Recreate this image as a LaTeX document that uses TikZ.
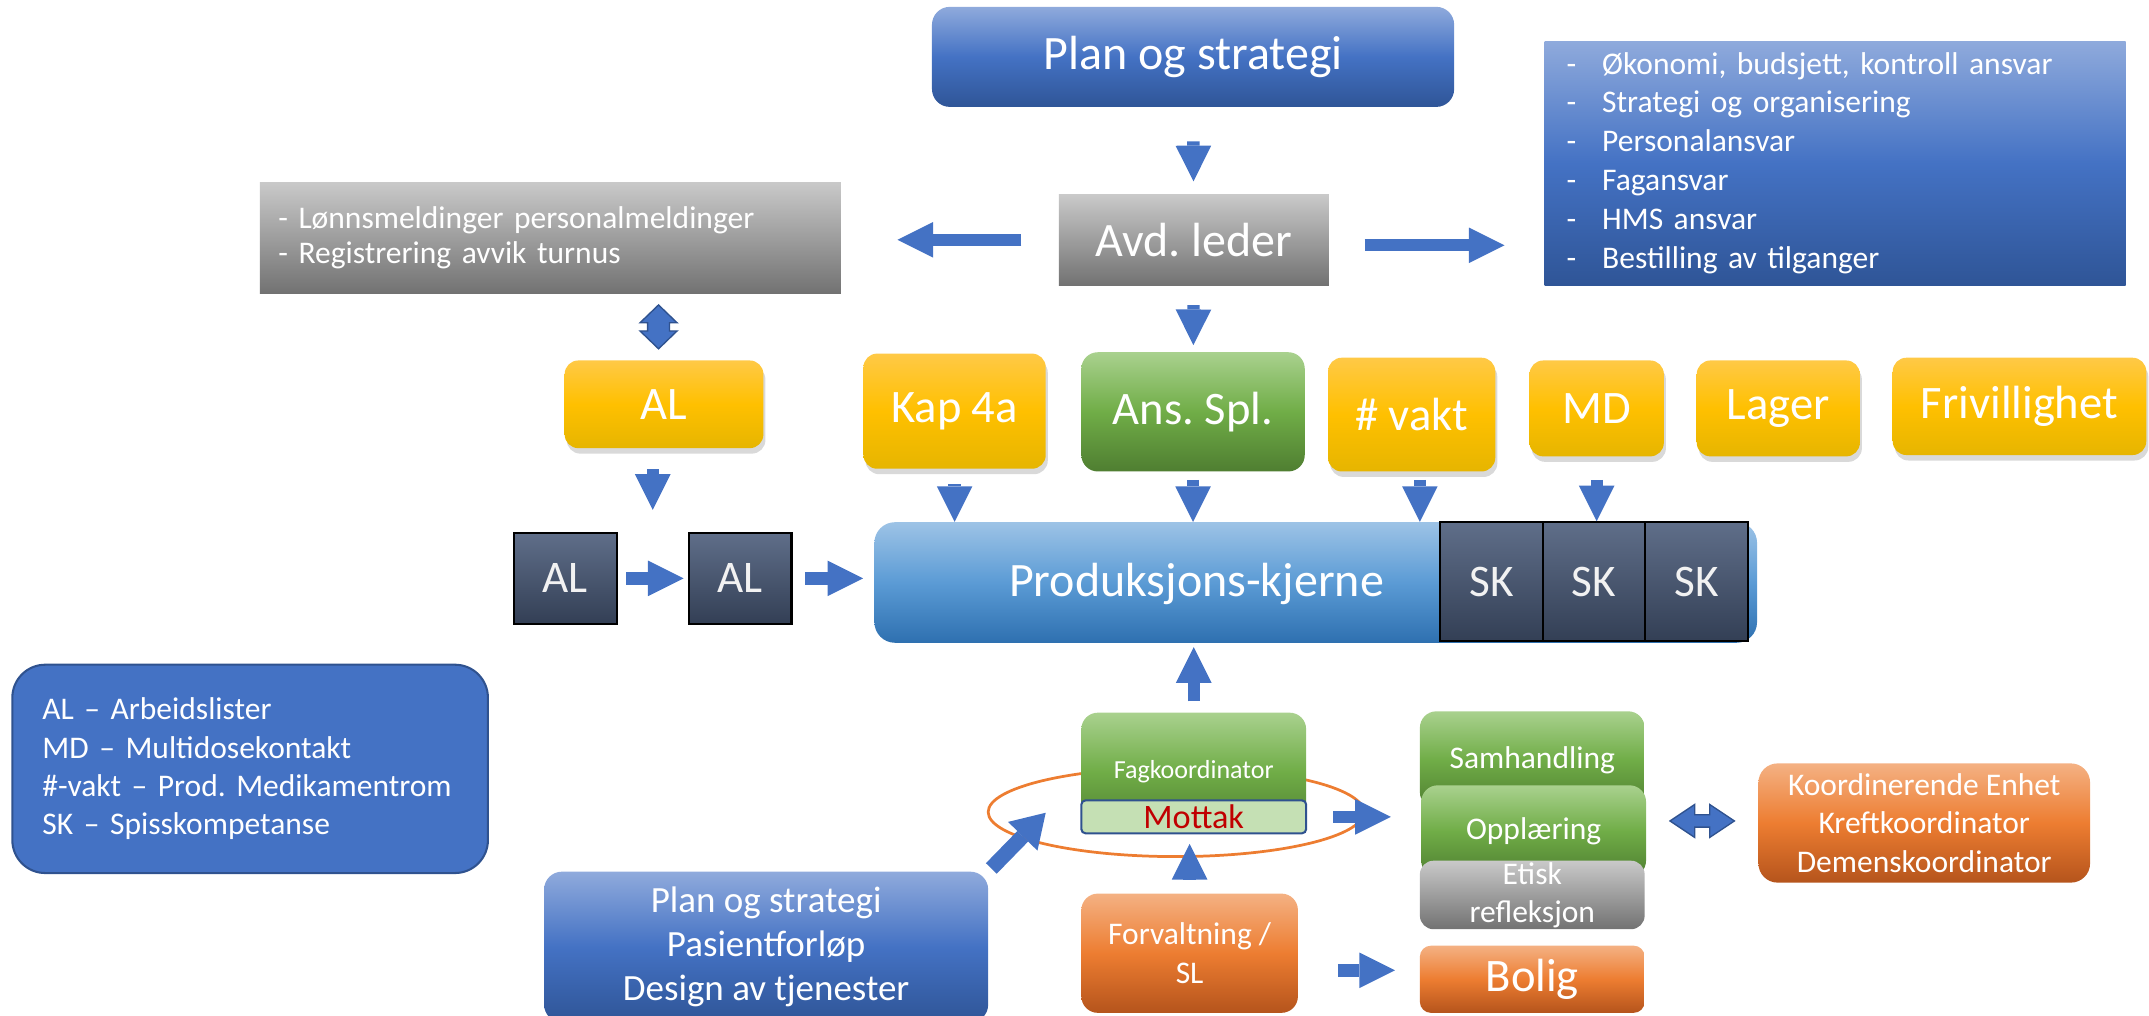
\documentclass[tikz,border=0pt]{standalone}
\usepackage{fontspec}
\setmainfont{Carlito}
\usetikzlibrary{calc,arrows.meta,shadows,shapes.geometric}
\frenchspacing
\definecolor{ArrowBlue}{HTML}{4472C4}
\definecolor{DeepBlue}{HTML}{2F5597}
\definecolor{PaleBlue}{HTML}{8FAADC}
\definecolor{EdgeBlue}{HTML}{2F528F}
\definecolor{PaleGray}{HTML}{C9C9C9}
\definecolor{DeepGray}{HTML}{727272}
\definecolor{PaleGold}{HTML}{FFC946}
\definecolor{MidGold}{HTML}{FFC000}
\definecolor{DeepGold}{HTML}{E6B500}
\definecolor{PaleGreen}{HTML}{A9D18E}
\definecolor{MidGreen}{HTML}{70AD47}
\definecolor{DeepGreen}{HTML}{4F7E31}
\definecolor{PaleOrange}{HTML}{F4B183}
\definecolor{MidOrange}{HTML}{ED7D31}
\definecolor{DeepOrange}{HTML}{B5541C}
\definecolor{PaleSky}{HTML}{9DC3E6}
\definecolor{MidSky}{HTML}{5B9BD5}
\definecolor{DeepSky}{HTML}{2E70B0}
\definecolor{PaleSlate}{HTML}{5F6E89}
\definecolor{DeepSlate}{HTML}{333F55}
\definecolor{MintGreen}{HTML}{C5E0B4}
\definecolor{MottakRed}{HTML}{C00000}
\newcommand{\TwinArrowH}[5]{%
($(#1)+(-#2,0)$) -- ++(#3,#4) -- ++(0,#5-#4) -- ++(2*#2-2*#3,0) -- %
++(0,#4-#5) -- ++(#3,-#4) -- ++(-#3,-#4) -- ++(0,#4-#5) -- %
++(2*#3-2*#2,0) -- ++(0,#5-#4) -- cycle %
}
\newcommand{\TwinArrowV}[5]{%
($(#1)+(0,-#2)$) -- ++(#4,#3) -- ++(#5-#4,0) -- ++(0,2*#2-2*#3) -- %
++(#4-#5,0) -- ++(-#4,#3) -- ++(-#4,-#3) -- ++(#4-#5,0) -- %
++(0,2*#3-2*#2) -- ++(#5-#4,0) -- cycle %
}
\begin{document}
\begin{tikzpicture}[x=1pt,y=-1pt,
  every node/.style={inner sep=0pt,text=white},
  wh/.style 2 args={minimum width=#1pt,minimum height=#2pt},
  txt/.style 2 args={font=\fontsize{#1}{#2}\selectfont},
  bluebox/.style={top color=PaleBlue,bottom color=DeepBlue,middle color=ArrowBlue},
  graybox/.style={top color=PaleGray,bottom color=DeepGray},
  goldbox/.style={top color=PaleGold,bottom color=DeepGold,middle color=MidGold,rounded corners=10pt,
    drop shadow={opacity=0.3,shadow xshift=1.5pt,shadow yshift=-4pt},txt={34}{40}},
  greenbox/.style={top color=PaleGreen,bottom color=DeepGreen,middle color=MidGreen,rounded corners=12pt},
  orangebox/.style={top color=PaleOrange,bottom color=DeepOrange,middle color=MidOrange,rounded corners=12pt},
  slatebox/.style={top color=PaleSlate,bottom color=DeepSlate,draw=black,line width=1.5pt,
    text=white!95!black,txt={33}{40}},
  blockarrow/.style={draw=ArrowBlue,line width=9pt,-{Triangle[width=26pt,length=26pt,line width=0pt]}},
  twinarrow/.style={fill=ArrowBlue,draw=EdgeBlue,line width=1pt}]
  \useasboundingbox (0,0) rectangle (1568,741);

  \node[bluebox,rounded corners=13pt,wh={381}{73},txt={35}{42}] (plantop) at (870.5,41.5) {Plan og strategi};
  \node[graybox,wh={197}{66},txt={35}{42}] (avd) at (871,175) {Avd. leder};
  \node[bluebox,wh={424}{178},txt={23}{28.4},text width=392pt,inner xsep=16pt,align=left] (ansvar) at (1339,119)
    {\makebox[26pt][l]{-}Økonomi, budsjett, kontroll ansvar\\
     \makebox[26pt][l]{-}Strategi og organisering\\
     \makebox[26pt][l]{-}Personalansvar\\
     \makebox[26pt][l]{-}Fagansvar\\
     \makebox[26pt][l]{-}HMS ansvar\\
     \makebox[26pt][l]{-}Bestilling av tilganger};
  \node[graybox,wh={424}{81},txt={23}{26},text width=397pt,inner xsep=13.5pt,align=left] (lonn) at (401.6,173.5)
    {- Lønnsmeldinger personalmeldinger\\- Registrering avvik turnus};

  \node[goldbox,wh={145}{64}] (aly) at (484.5,295) {AL};
  \node[goldbox,wh={133}{84}] (kap) at (696.5,300) {Kap 4a};
  \node[greenbox,wh={163}{87},txt={34}{40}] (ansspl) at (870.5,300.5) {Ans. Spl.};
  \node[goldbox,wh={122}{83}] (vakt) at (1030,302.5) {\# vakt};
  \node[goldbox,wh={98}{70}] (md) at (1165,298) {MD};
  \node[goldbox,wh={119}{70}] (lager) at (1297.5,298) {Lager};
  \node[goldbox,wh={185}{71}] (friv) at (1473.5,296.5) {Frivillighet};

  \node[top color=PaleSky,bottom color=DeepSky,middle color=MidSky,rounded corners=15pt,wh={644}{88}] (prod) at (960,425) {};
  \node[txt={35}{42}] (prodlabel) at (873,426) {Produksjons-kjerne};
  \foreach \i/\x in {1/1088.5,2/1163,3/1238}
    \node[slatebox,wh={75}{87}] (sk\i) at (\x,424.5) {SK};
  \node[slatebox,wh={75}{66}] (al1) at (412.5,422) {AL};
  \node[slatebox,wh={75}{66}] (al2) at (540,422) {AL};

  \node[fill=ArrowBlue,draw=EdgeBlue,line width=1.5pt,rounded corners=24pt,wh={347}{152},txt={23}{28},
    text width=303pt,inner xsep=22pt,align=left] (legend) at (182.5,561)
    {AL – Arbeidslister\\MD – Multidosekontakt\\\#-vakt – Prod. Medikamentrom\\SK – Spisskompetanse};

  \node[draw=MidOrange,line width=2pt,ellipse,wh={274}{65}] (ring) at (858,592.5) {};
  \node[greenbox,wh={164}{86},txt={19}{23}] (fag) at (871,563) {Fagkoordinator};
  \node[fill=MintGreen,draw=EdgeBlue,line width=1.5pt,rounded corners=3pt,wh={164}{24},txt={25}{28},text=MottakRed] (mottak) at (871,596) {Mottak};
  \node[bluebox,rounded corners=13pt,wh={324}{110},txt={27}{32},align=center] (planbot) at (559,691)
    {Plan og strategi\\Pasientforløp\\Design av tjenester};
  \node[orangebox,wh={158}{87},txt={23}{28},align=center] (forv) at (868,695.5) {Forvaltning /\\SL};
  \node[greenbox,wh={164}{71},txt={23}{28}] (samh) at (1118,554.5) {Samhandling};
  \node[greenbox,wh={164}{67},txt={23}{28}] (oppl) at (1119,606.5) {Opplæring};
  \node[graybox,rounded corners=10pt,wh={164}{50},txt={23}{28},align=center] (etisk) at (1118,653) {Etisk\\refleksjon};
  \node[orangebox,rounded corners=8pt,wh={164}{49},txt={34}{40}] (bolig) at (1118,714.5) {Bolig};
  \node[orangebox,rounded corners=14pt,wh={242}{87},txt={23}{28},align=center] (koord) at (1404,600.5)
    {Koordinerende Enhet\\Kreftkoordinator\\Demenskoordinator};

  \coordinate (avdr) at ([yshift=-4pt]avd.east);
  \coordinate (alflow) at ($(al1.east)!0.5!(al2.west)$);
  \coordinate (vaktout) at ([xshift=6pt]vakt.south);
  \coordinate (ringin) at (763,593);
  \coordinate (forvr) at ([yshift=-12.5pt]forv.east);
  \coordinate (lonnal) at ([xshift=-4pt]$(aly.north |- lonn.south)!0.5!(aly.north)$);
  \coordinate (oppkoord) at ([yshift=4.5pt]$(oppl.east)!0.5!(koord.west)$);

  \draw[blockarrow,shorten <=25pt,shorten >=9.5pt] (plantop) -- (avd);
  \draw[blockarrow,shorten <=14.5pt,shorten >=5pt] (avd) -- (ansspl);
  \draw[blockarrow,shorten <=27pt,shorten >=41pt] (avd.west) -- (avd.west -| lonn.east);
  \draw[blockarrow,shorten <=26pt,shorten >=29pt] (avdr) -- (avdr -| ansvar.west);
  \draw[blockarrow,shorten <=15pt,shorten >=50pt] (alflow |- aly.south) -- (alflow);
  \draw[blockarrow,shorten <=11pt] (kap.south) -- (kap.south |- prod.north);
  \draw[blockarrow,shorten <=6pt] (ansspl.south) -- (ansspl.south |- prod.north);
  \draw[blockarrow,shorten <=6pt] (vaktout) -- (vaktout |- prod.north);
  \draw[blockarrow,shorten <=17pt] (md.south) -- (md.south |- sk2.north);
  \draw[blockarrow,shorten <=6pt,shorten >=3pt] (al1) -- (al2);
  \draw[blockarrow,shorten <=9pt,shorten >=8pt] (al2.east) -- (al2.east -| prod.west);
  \draw[blockarrow,shorten <=8pt,shorten >=3pt] (fag.north) -- (fag.north |- prod.south);
  \draw[blockarrow,line width=11pt,-{Triangle[width=30pt,length=24pt,line width=0pt]},shorten <=3pt] (planbot.north east) -- (ringin);
  \draw[blockarrow,shorten <=19pt,shorten >=22pt] (mottak.east) -- (mottak.east -| oppl.west);
  \draw[blockarrow,shorten <=11pt,shorten >=7pt] (forv.north) -- (forv.north |- mottak.south);
  \draw[blockarrow,shorten <=29pt,shorten >=18pt] (forvr) -- (forvr -| bolig.west);
  \draw[twinarrow] \TwinArrowV{lonnal}{16}{13}{13.5}{8};
  \draw[twinarrow] \TwinArrowH{oppkoord}{23.5}{18}{12}{4.5};
\end{tikzpicture}
\end{document}
